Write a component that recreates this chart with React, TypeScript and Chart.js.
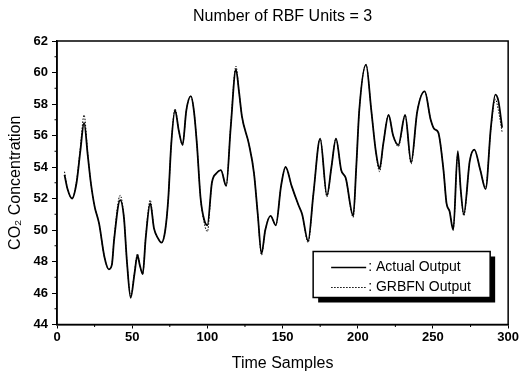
import React, { useEffect, useRef } from "react";
import { Chart, registerables } from "chart.js";

Chart.register(...registerables);

const chartTitle = "Number of RBF Units = 3";
const xAxisTitle = "Time Samples";
const yAxisTitle = "CO\u2082 Concentration";
const legendLabels = [": Actual Output", ": GRBFN Output"];

const timeSamples = [
  5, 7, 10, 13, 15.5, 18, 20.5, 22.5, 25, 28, 31.5, 34.5, 36.5, 38, 42, 44.5, 46.5, 49, 51.5, 53.5,
  55, 57, 59, 62, 64.5, 67, 69.5, 72, 74, 76, 78.5, 81, 83.5, 86, 89, 91, 93, 95.5, 98, 100,
  103, 106, 109, 112.5, 115.5, 119, 121, 123, 127.5, 131, 133.5, 136, 138.5, 142, 145.5, 149, 152, 156, 160.5, 163,
  167, 170.5, 175, 179.5, 182.5, 185.5, 189, 192, 197, 199, 201, 205.5, 209, 212, 214.5, 217, 220.5, 223.5, 227, 231.5,
  235.5, 239.5, 244.5, 248.5, 251, 253.5, 257, 259, 261, 263.5, 266.5, 268.5, 270.5, 274.5, 277.5, 281.5, 285, 288.5, 291.5, 293.5,
  296,
];

const actualOutput = [
  53.5, 52.6, 52.0, 53.0, 55.0, 56.8, 54.7, 53.0, 51.5, 50.4, 48.3, 47.5, 47.8, 49.4, 51.9, 50.8, 48.0, 45.7, 47.2, 48.4,
  47.8, 47.2, 49.5, 51.7, 50.1, 49.5, 49.2, 50.0, 52.0, 55.5, 57.6, 56.3, 55.4, 57.6, 58.5, 57.6, 55.5, 52.0, 50.6, 50.3,
  53.0, 53.6, 53.8, 52.8, 56.5, 60.2, 58.8, 57.2, 55.5, 53.6, 51.0, 48.5, 50.0, 50.9, 50.3, 52.8, 54.0, 52.8, 51.6, 51.0,
  49.3, 52.3, 55.8, 52.2, 54.0, 55.8, 53.8, 53.3, 50.9, 54.0, 57.6, 60.5, 57.6, 55.0, 53.9, 55.5, 57.3, 56.0, 55.4, 57.3,
  54.3, 57.5, 58.8, 57.0, 56.4, 56.2, 53.8, 51.7, 51.2, 50.0, 55.0, 52.5, 51.0, 54.4, 55.1, 53.8, 52.6, 56.5, 58.6, 58.2,
  56.5,
];

const grbfnOutput = [
  53.7, 52.6, 52.0, 53.1, 55.2, 57.3, 54.8, 53.0, 51.5, 50.4, 48.3, 47.5, 47.8, 49.5, 52.2, 50.8, 48.0, 45.8, 47.3, 48.5,
  47.8, 47.2, 49.6, 51.9, 50.1, 49.5, 49.2, 50.0, 52.0, 55.5, 57.7, 56.3, 55.4, 57.6, 58.5, 57.6, 55.5, 52.0, 50.4, 49.9,
  53.0, 53.6, 53.8, 52.8, 56.6, 60.4, 58.8, 57.2, 55.5, 53.6, 51.0, 48.4, 50.0, 50.9, 50.3, 52.8, 54.0, 52.8, 51.6, 51.0,
  49.2, 52.3, 55.8, 52.1, 54.0, 55.8, 53.8, 53.3, 50.8, 54.0, 57.6, 60.5, 57.6, 55.0, 53.7, 55.5, 57.3, 56.0, 55.3, 57.3,
  54.2, 57.5, 58.8, 57.0, 56.4, 56.2, 53.8, 51.7, 51.2, 50.1, 54.8, 52.5, 50.9, 54.4, 55.1, 53.8, 52.7, 56.4, 58.3, 57.6,
  56.2,
];

const xMin = 0, xMax = 300, xMajor = 50, xMinor = 25;
const yMin = 44, yMax = 62, yMajor = 2, yMinor = 1;

const SANS = "'Liberation Sans', Arial, sans-serif";
const NARROW = "'Liberation Sans Narrow', 'Liberation Sans', Arial, sans-serif";

const framePlugin = {
  id: "frame",
  afterDraw(chart: any) {
    const { ctx, chartArea: a, scales } = chart;
    ctx.save();
    ctx.strokeStyle = "#000";
    ctx.lineWidth = 1.5;
    ctx.strokeRect(a.left, a.top, a.right - a.left, a.bottom - a.top);
    ctx.lineWidth = 1;
    ctx.beginPath();
    for (let v = xMin; v <= xMax; v += xMinor) {
      if (v % xMajor === 0) continue;
      const px = scales.x.getPixelForValue(v);
      ctx.moveTo(px, a.bottom);
      ctx.lineTo(px, a.bottom + 2.5);
    }
    for (let v = yMin; v <= yMax; v += yMinor) {
      if (v % yMajor === 0) continue;
      const py = scales.y.getPixelForValue(v);
      ctx.moveTo(a.left, py);
      ctx.lineTo(a.left - 2.5, py);
    }
    ctx.stroke();
    ctx.fillStyle = "#000";
    ctx.font = `16px ${SANS}`;
    ctx.textAlign = "center";
    ctx.textBaseline = "middle";
    ctx.fillText(chartTitle, (a.left + a.right) / 2, 17);
    const bx = a.right - 195, by = a.bottom - 73, bw = 177, bh = 46;
    ctx.fillStyle = "#000";
    ctx.fillRect(bx + 5, by + 5, bw, bh);
    ctx.fillStyle = "#fff";
    ctx.fillRect(bx, by, bw, bh);
    ctx.strokeStyle = "#000";
    ctx.lineWidth = 1.5;
    ctx.strokeRect(bx, by, bw, bh);
    const rows = [by + 16, by + 36];
    ctx.lineWidth = 1.6;
    ctx.setLineDash([]);
    ctx.beginPath();
    ctx.moveTo(bx + 18, rows[0]);
    ctx.lineTo(bx + 53, rows[0]);
    ctx.stroke();
    ctx.lineWidth = 1;
    ctx.setLineDash([1.5, 1.5]);
    ctx.beginPath();
    ctx.moveTo(bx + 18, rows[1]);
    ctx.lineTo(bx + 53, rows[1]);
    ctx.stroke();
    ctx.setLineDash([]);
    ctx.fillStyle = "#000";
    ctx.font = `14px ${SANS}`;
    ctx.textAlign = "left";
    ctx.fillText(legendLabels[0], bx + 55, rows[0]);
    ctx.fillText(legendLabels[1], bx + 55, rows[1]);
    ctx.restore();
  },
};

export default function App() {
  const ref = useRef<HTMLCanvasElement | null>(null);
  useEffect(() => {
    document.body.style.margin = "0";
    const canvas = ref.current;
    if (!canvas) return;
    const chart = new Chart(canvas, {
      type: "line",
      data: {
        datasets: [
          {
            label: "Actual Output",
            data: timeSamples.map((t, i) => ({ x: t, y: actualOutput[i] })),
            borderColor: "#000",
            borderWidth: 1.8,
            pointRadius: 0,
            cubicInterpolationMode: "monotone",
            fill: false,
          },
          {
            label: "GRBFN Output",
            data: timeSamples.map((t, i) => ({ x: t, y: grbfnOutput[i] })),
            borderColor: "#000",
            borderWidth: 1,
            borderDash: [1.5, 1.5],
            pointRadius: 0,
            cubicInterpolationMode: "monotone",
            fill: false,
          },
        ],
      },
      options: {
        animation: false,
        responsive: false,
        devicePixelRatio: 1,
        layout: { padding: { left: 0, top: 41, right: 10, bottom: 11 } },
        plugins: { legend: { display: false }, tooltip: { enabled: false }, title: { display: false } },
        scales: {
          x: {
            type: "linear",
            min: xMin,
            max: xMax,
            ticks: { stepSize: xMajor, color: "#000", font: { family: NARROW, size: 13, weight: "bold" }, padding: 1, maxRotation: 0 },
            grid: { display: true, drawOnChartArea: false, drawTicks: true, tickLength: 4, color: "#000", tickWidth: 1 },
            border: { display: true, color: "#000", width: 1.5 },
            title: { display: true, text: xAxisTitle, color: "#000", font: { family: SANS, size: 16 }, padding: { top: 0, bottom: 0 } },
            afterFit: (s: any) => { s.height = 384 - 11 - 324.5; },
          },
          y: {
            type: "linear",
            min: yMin,
            max: yMax,
            ticks: { stepSize: yMajor, color: "#000", font: { family: NARROW, size: 13, weight: "bold" }, padding: 4 },
            grid: { display: true, drawOnChartArea: false, drawTicks: true, tickLength: 5, color: "#000", tickWidth: 1 },
            border: { display: true, color: "#000", width: 1.5 },
            title: { display: true, text: yAxisTitle, color: "#000", font: { family: SANS, size: 16 }, padding: { top: 6, bottom: 0 } },
            afterFit: (s: any) => { s.width = 57; },
          },
        },
      },
      plugins: [framePlugin],
    } as any);
    return () => chart.destroy();
  }, []);
  return (
    <div style={{ position: "absolute", left: 0, top: 0, width: 520, height: 384, background: "#fff" }}>
      <canvas ref={ref} width={520} height={384} />
    </div>
  );
}
